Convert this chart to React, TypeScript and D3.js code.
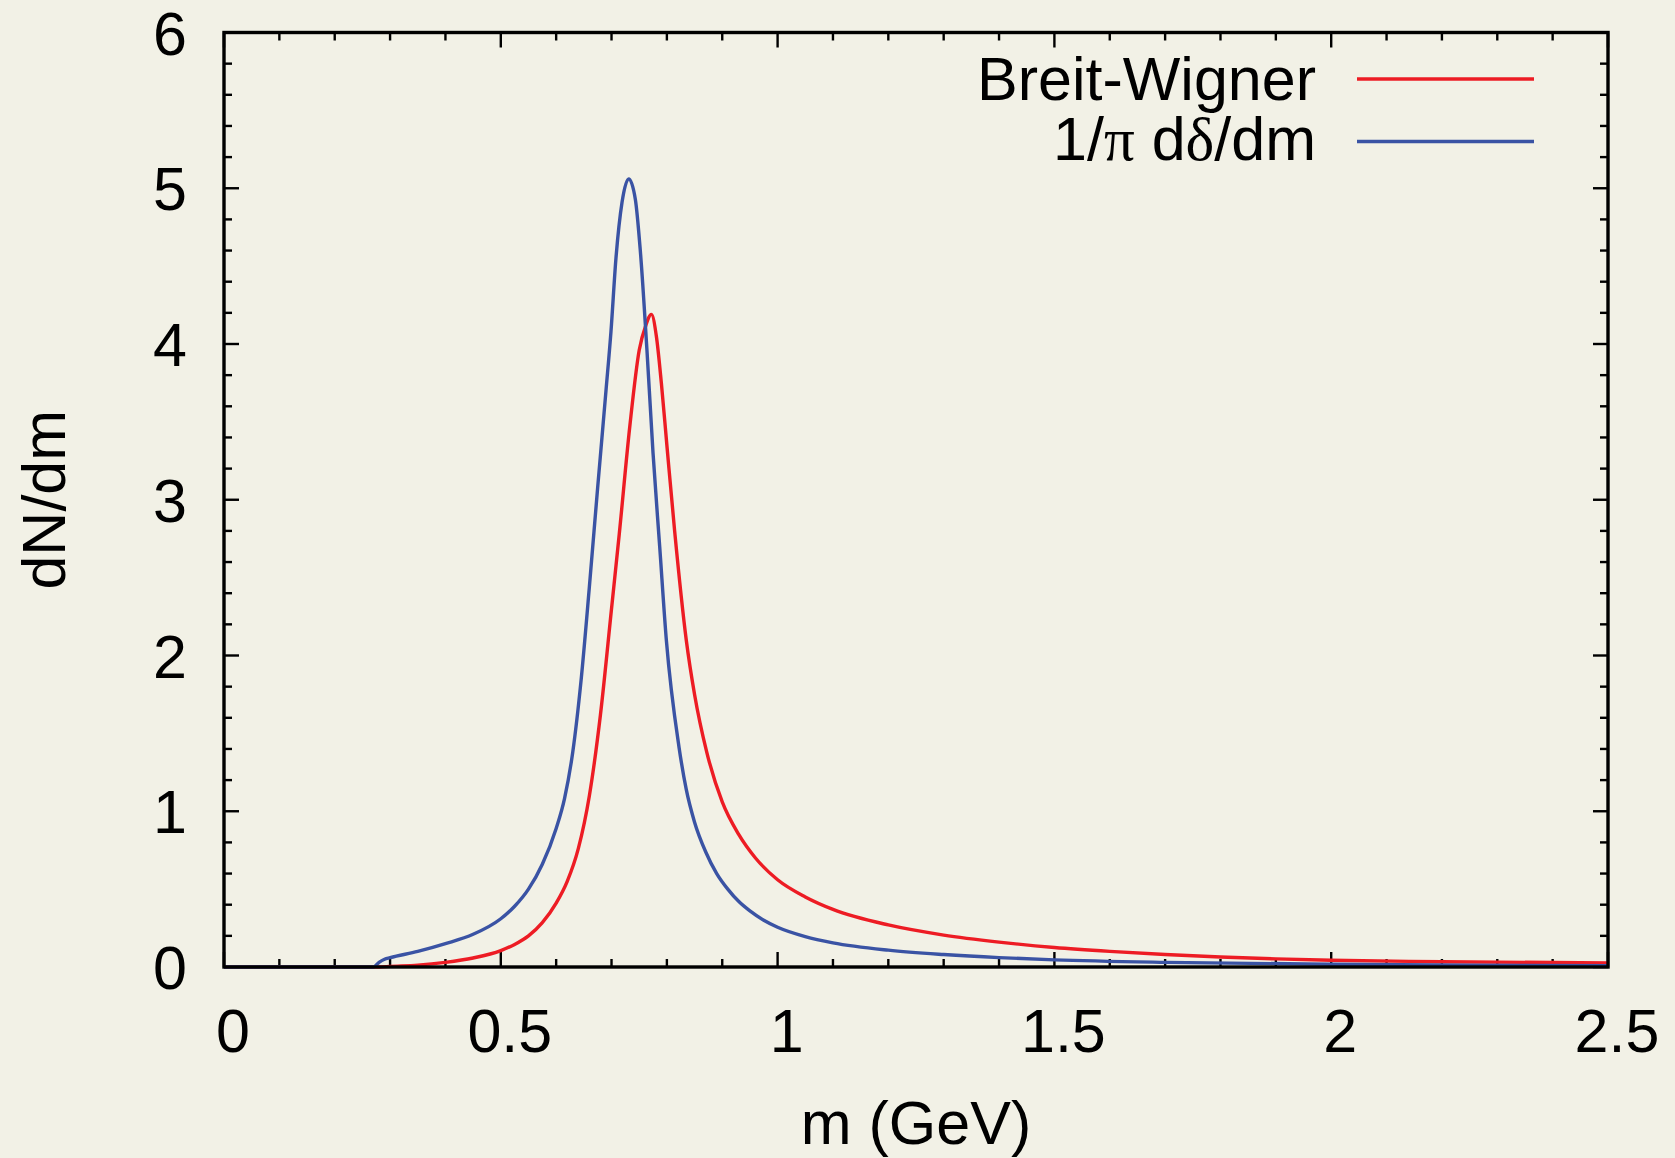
import React, { useEffect, useRef } from 'react';
import * as d3 from 'd3';

// m (GeV) grid and dN/dm
const bwMass = [0, 0.28, 0.3, 0.35, 0.4, 0.45, 0.5, 0.525, 0.55, 0.575, 0.6, 0.62, 0.64, 0.66, 0.68, 0.7, 0.714, 0.733, 0.75, 0.762, 0.772, 0.781, 0.79, 0.8, 0.814, 0.835, 0.85, 0.872, 0.9, 0.93, 0.96, 1.0, 1.05, 1.1, 1.2, 1.3, 1.4, 1.5, 1.6, 1.7, 1.8, 1.9, 2.0, 2.2, 2.5];
const bwValues = [0, 0, 0.004, 0.012, 0.03, 0.058, 0.105, 0.145, 0.2, 0.285, 0.41, 0.55, 0.76, 1.1, 1.62, 2.3, 2.78, 3.47, 3.96, 4.12, 4.19, 4.05, 3.75, 3.35, 2.8, 2.1, 1.75, 1.38, 1.06, 0.85, 0.7, 0.56, 0.45, 0.37, 0.27, 0.205, 0.16, 0.125, 0.1, 0.08, 0.064, 0.052, 0.043, 0.034, 0.026];

const phaseMass = [0, 0.27, 0.28, 0.29, 0.3, 0.35, 0.4, 0.45, 0.5, 0.525, 0.55, 0.575, 0.6, 0.615, 0.63, 0.645, 0.66, 0.675, 0.69, 0.699, 0.708, 0.719, 0.731, 0.743, 0.752, 0.764, 0.775, 0.787, 0.799, 0.822, 0.835, 0.85, 0.87, 0.89, 0.91, 0.93, 0.95, 0.975, 1.0, 1.05, 1.1, 1.2, 1.3, 1.4, 1.5, 1.7, 2.0, 2.25, 2.5];
const phaseValues = [0, 0, 0.03, 0.05, 0.06, 0.1, 0.15, 0.21, 0.31, 0.39, 0.5, 0.66, 0.89, 1.08, 1.38, 1.84, 2.44, 3.08, 3.7, 4.08, 4.55, 4.91, 5.06, 4.93, 4.6, 3.96, 3.3, 2.7, 2.1, 1.41, 1.14, 0.93, 0.74, 0.6, 0.5, 0.42, 0.36, 0.3, 0.255, 0.195, 0.155, 0.108, 0.08, 0.06, 0.046, 0.03, 0.018, 0.012, 0.008];

const xTicks = [0, 0.5, 1, 1.5, 2, 2.5];
const xTickLabels = ['0', '0.5', '1', '1.5', '2', '2.5'];
const yTicks = [0, 1, 2, 3, 4, 5, 6];

const W = 1675;
const H = 1158;
const FONT = '"Liberation Sans", Arial, Helvetica, sans-serif';
const SERIF = '"Liberation Serif", "Times New Roman", serif';
const RED = '#ed1c24';
const BLUE = '#3a53a4';

export default function App() {
  const ref = useRef<SVGSVGElement | null>(null);

  useEffect(() => {
    const svg = d3.select(ref.current);
    svg.selectAll('*').remove();

    const left = 224, right = 1608, top = 32.5, bottom = 967;

    const x = d3.scaleLinear().domain([0, 2.5]).range([left, right]);
    const y = d3.scaleLinear().domain([0, 6]).range([bottom, top]);

    svg.append('rect').attr('width', W).attr('height', H).attr('fill', '#f2f1e6');

    // minor + major ticks on all four sides
    const tk = svg.append('g').attr('stroke', '#000').attr('stroke-width', 2.4);
    d3.range(0, 26).forEach(i => {
      const v = i / 10;
      const len = i % 5 === 0 ? 15 : 8;
      tk.append('line').attr('x1', x(v)).attr('x2', x(v)).attr('y1', bottom).attr('y2', bottom - len);
      tk.append('line').attr('x1', x(v)).attr('x2', x(v)).attr('y1', top).attr('y2', top + len);
    });
    d3.range(0, 31).forEach(i => {
      const v = i / 5;
      const len = i % 5 === 0 ? 15 : 8;
      tk.append('line').attr('y1', y(v)).attr('y2', y(v)).attr('x1', left).attr('x2', left + len);
      tk.append('line').attr('y1', y(v)).attr('y2', y(v)).attr('x1', right).attr('x2', right - len);
    });

    // curves
    const line = d3.line<[number, number]>()
      .x(d => x(d[0]))
      .y(d => y(d[1]))
      .curve(d3.curveMonotoneX);

    const bw = bwMass.map((m, i) => [m, bwValues[i]] as [number, number]);
    const ph = phaseMass.map((m, i) => [m, phaseValues[i]] as [number, number]);

    svg.append('path').datum(bw).attr('fill', 'none').attr('stroke', RED)
      .attr('stroke-width', 3.4).attr('stroke-linejoin', 'miter').attr('d', line);
    svg.append('path').datum(ph).attr('fill', 'none').attr('stroke', BLUE)
      .attr('stroke-width', 3.4).attr('stroke-linejoin', 'miter').attr('d', line);

    // frame
    svg.append('rect').attr('x', left).attr('y', top)
      .attr('width', right - left).attr('height', bottom - top)
      .attr('fill', 'none').attr('stroke', '#000').attr('stroke-width', 3.4);

    // tick labels
    const lab = svg.append('g').attr('font-family', FONT).attr('font-size', 61).attr('fill', '#000');
    xTicks.forEach((v, i) => {
      lab.append('text').attr('x', x(v) + 9).attr('y', 1052)
        .attr('text-anchor', 'middle').text(xTickLabels[i]);
    });
    yTicks.forEach(v => {
      lab.append('text').attr('x', 187).attr('y', y(v) + 22)
        .attr('text-anchor', 'end').text(String(v));
    });

    // axis titles
    lab.append('text').attr('x', (left + right) / 2).attr('y', 1144)
      .attr('text-anchor', 'middle').text('m (GeV)');
    lab.append('text').attr('transform', `translate(65,${(top + bottom) / 2}) rotate(-90)`)
      .attr('text-anchor', 'middle').text('dN/dm');

    // legend: pieces laid out left to right, then shifted so they end at legendRight
    const legendRight = 1316;
    const items = [
      { parts: [['Breit-Wigner', FONT]], color: RED, base: 99.5, ly: 79 },
      { parts: [['1/', FONT], ['π', SERIF], [' d', FONT], ['δ', SERIF], ['/dm', FONT]], color: BLUE, base: 160, ly: 141.5 }
    ];
    items.forEach(it => {
      const g = lab.append('g');
      let cx = 0;
      it.parts.forEach(p => {
        const t = g.append('text').attr('x', cx).attr('y', it.base)
          .attr('font-family', p[1]).attr('xml:space', 'preserve').style('white-space', 'pre').text(p[0]);
        const node = t.node() as SVGTextElement;
        cx += node.getComputedTextLength();
      });
      g.attr('transform', `translate(${legendRight - cx},0)`);
      svg.append('line').attr('x1', 1357).attr('x2', 1534).attr('y1', it.ly).attr('y2', it.ly)
        .attr('stroke', it.color).attr('stroke-width', 3.4);
    });

    return () => {
      svg.selectAll('*').remove();
    };
  }, []);

  return (
    <div style={{ position: 'absolute', left: 0, top: 0 }}>
      <svg ref={ref} width={W} height={H} style={{ display: 'block' }} />
    </div>
  );
}
